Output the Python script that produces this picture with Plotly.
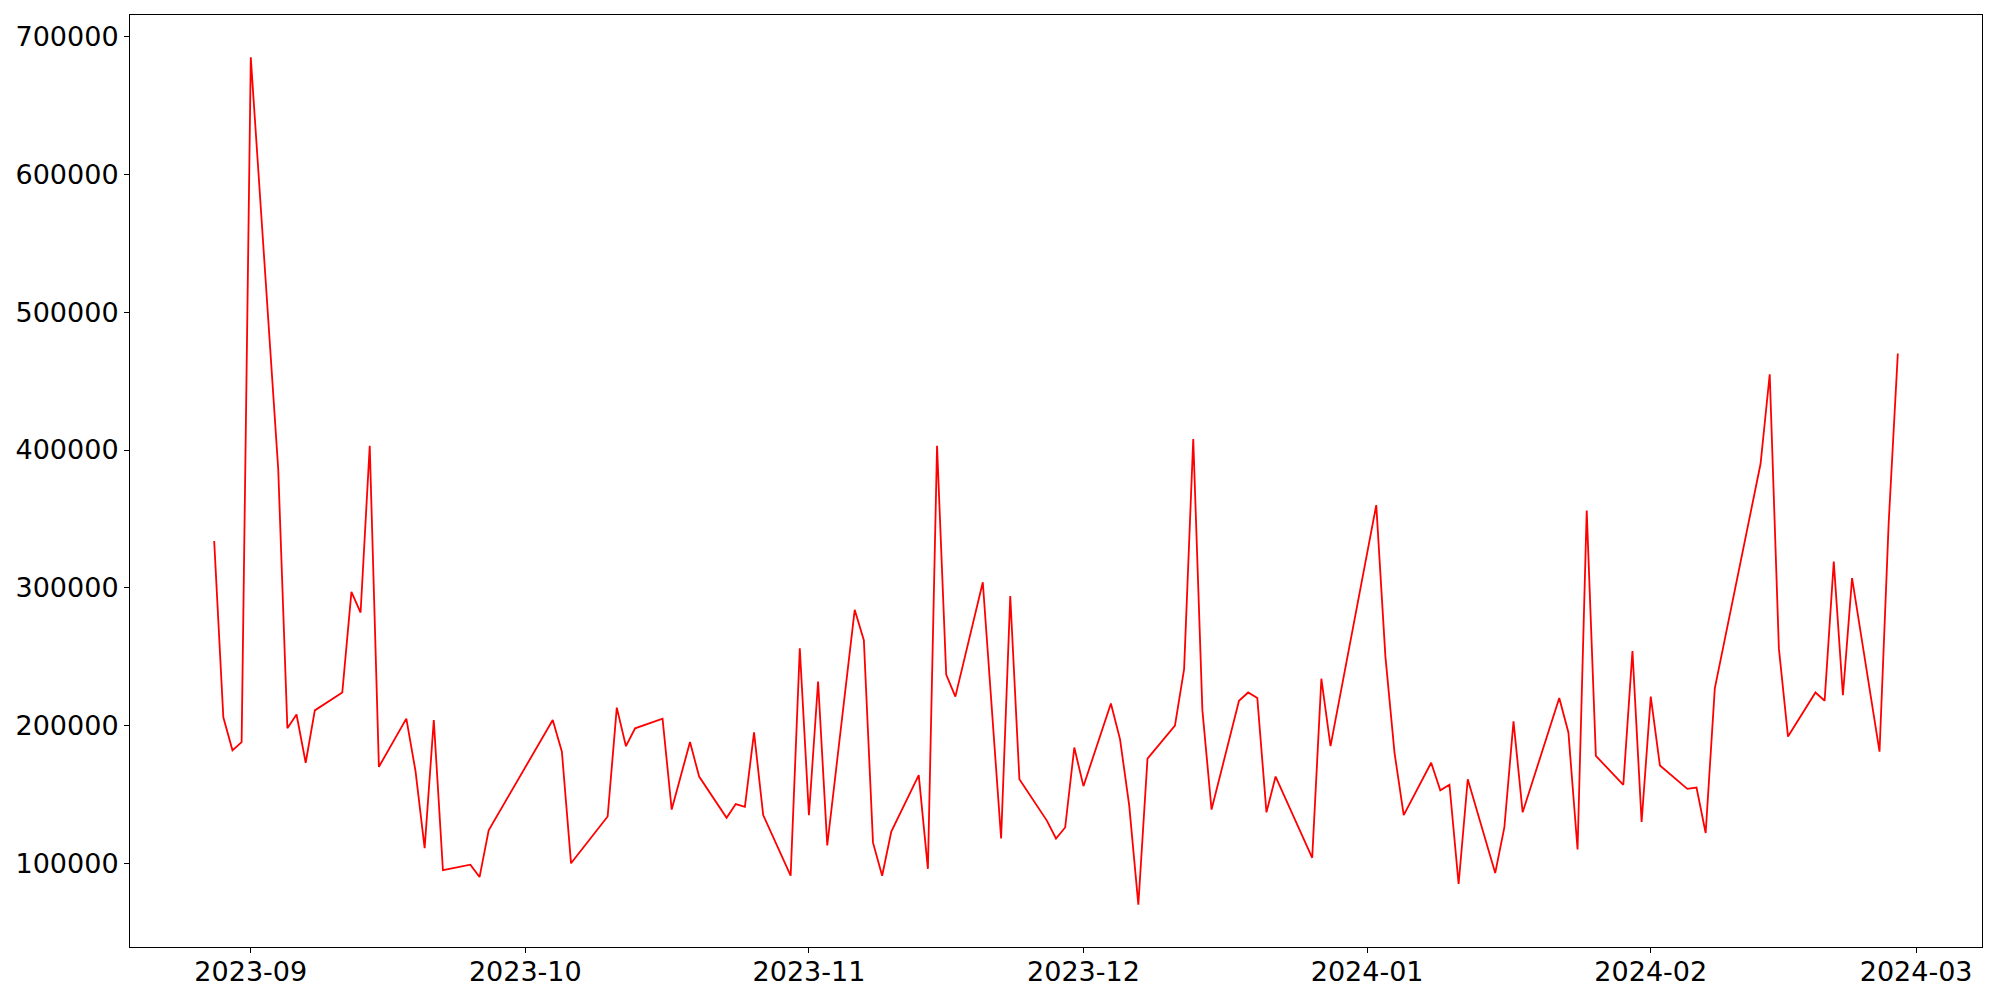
import pandas as pd
import plotly.graph_objects as go

# daily values (gaps are days without data)
dates = [
    "2023-08-28", "2023-08-29", "2023-08-30", "2023-08-31", "2023-09-01",
    "2023-09-04", "2023-09-05", "2023-09-06", "2023-09-07", "2023-09-08",
    "2023-09-11", "2023-09-12", "2023-09-13", "2023-09-14", "2023-09-15",
    "2023-09-18", "2023-09-19", "2023-09-20", "2023-09-21", "2023-09-22",
    "2023-09-25", "2023-09-26", "2023-09-27",
    "2023-10-04", "2023-10-05", "2023-10-06",
    "2023-10-10", "2023-10-11", "2023-10-12", "2023-10-13",
    "2023-10-16", "2023-10-17", "2023-10-19", "2023-10-20",
    "2023-10-23", "2023-10-24", "2023-10-25", "2023-10-26", "2023-10-27",
    "2023-10-30", "2023-10-31", "2023-11-01", "2023-11-02", "2023-11-03",
    "2023-11-06", "2023-11-07", "2023-11-08", "2023-11-09", "2023-11-10",
    "2023-11-13", "2023-11-14", "2023-11-15", "2023-11-16", "2023-11-17",
    "2023-11-20", "2023-11-22", "2023-11-23", "2023-11-24",
    "2023-11-27", "2023-11-28", "2023-11-29", "2023-11-30", "2023-12-01",
    "2023-12-04", "2023-12-05", "2023-12-06", "2023-12-07", "2023-12-08",
    "2023-12-11", "2023-12-12", "2023-12-13", "2023-12-14", "2023-12-15",
    "2023-12-18", "2023-12-19", "2023-12-20", "2023-12-21", "2023-12-22",
    "2023-12-26", "2023-12-27", "2023-12-28",
    "2024-01-02", "2024-01-03", "2024-01-04", "2024-01-05",
    "2024-01-08", "2024-01-09", "2024-01-10", "2024-01-11", "2024-01-12",
    "2024-01-15", "2024-01-16", "2024-01-17", "2024-01-18",
    "2024-01-22", "2024-01-23", "2024-01-24", "2024-01-25", "2024-01-26",
    "2024-01-29", "2024-01-30", "2024-01-31", "2024-02-01", "2024-02-02",
    "2024-02-05", "2024-02-06", "2024-02-07", "2024-02-08",
    "2024-02-13", "2024-02-14", "2024-02-15", "2024-02-16",
    "2024-02-19", "2024-02-20", "2024-02-21", "2024-02-22", "2024-02-23",
    "2024-02-26", "2024-02-27", "2024-02-28",
]
values = [
    334000, 206000, 182000, 188000, 685000,
    386000, 198000, 208000, 173000, 211000,
    224000, 297000, 282000, 403000, 170000,
    205000, 167000, 111000, 204000, 95000,
    99000, 90000, 124000,
    204000, 181000, 100000,
    134000, 213000, 185000, 198000,
    205000, 139000, 188000, 163000,
    133000, 143000, 141000, 195000, 135000,
    91000, 256000, 135000, 232000, 113000,
    284000, 262000, 115000, 91000, 123000,
    164000, 96000, 403000, 237000, 221000,
    304000, 118000, 294000, 161000,
    131000, 118000, 126000, 184000, 156000,
    216000, 190000, 142000, 70000, 176000,
    200000, 241000, 408000, 211000, 139000,
    218000, 224000, 220000, 137000, 163000,
    104000, 234000, 185000,
    360000, 250000, 180000, 135000,
    173000, 153000, 157000, 85000, 161000,
    93000, 126000, 203000, 137000,
    220000, 195000, 110000, 356000, 178000,
    157000, 254000, 130000, 221000, 171000,
    154000, 155000, 122000, 227000,
    390000, 455000, 256000, 192000,
    224000, 218000, 319000, 222000, 307000,
    181000, 347000, 470000,
]

df = pd.DataFrame({"date": pd.to_datetime(dates), "value": values})

# matplotlib-like 5% padding around the data
x_pad = (df["date"].max() - df["date"].min()) * 0.05
y_pad = (df["value"].max() - df["value"].min()) * 0.05
x_range = [df["date"].min() - x_pad, df["date"].max() + x_pad]
y_range = [df["value"].min() - y_pad, df["value"].max() + y_pad]

fig = go.Figure(
    go.Scatter(
        x=df["date"],
        y=df["value"],
        mode="lines",
        line=dict(color="red", width=1.8),
    )
)

axis_style = dict(
    showline=True,
    linecolor="black",
    linewidth=1,
    mirror=True,
    showgrid=False,
    zeroline=False,
    ticks="outside",
    ticklen=5,
    tickwidth=1,
    tickcolor="black",
)

# page body has an 8px margin, so the figure is 8px smaller than the window
fig.update_layout(
    width=1992,
    height=992,
    margin=dict(l=122, r=18, t=7, b=53),
    plot_bgcolor="white",
    paper_bgcolor="white",
    font=dict(family="DejaVu Sans", size=27, color="black"),
    showlegend=False,
    xaxis=dict(
        range=x_range,
        tickformat="%Y-%m",
        dtick="M1",
        tick0="2023-09-01",
        ticklabelstandoff=-4,
        **axis_style,
    ),
    yaxis=dict(
        range=y_range,
        tickformat="d",
        dtick=100000,
        tick0=0,
        **axis_style,
    ),
)

fig.write_html("out.html")
